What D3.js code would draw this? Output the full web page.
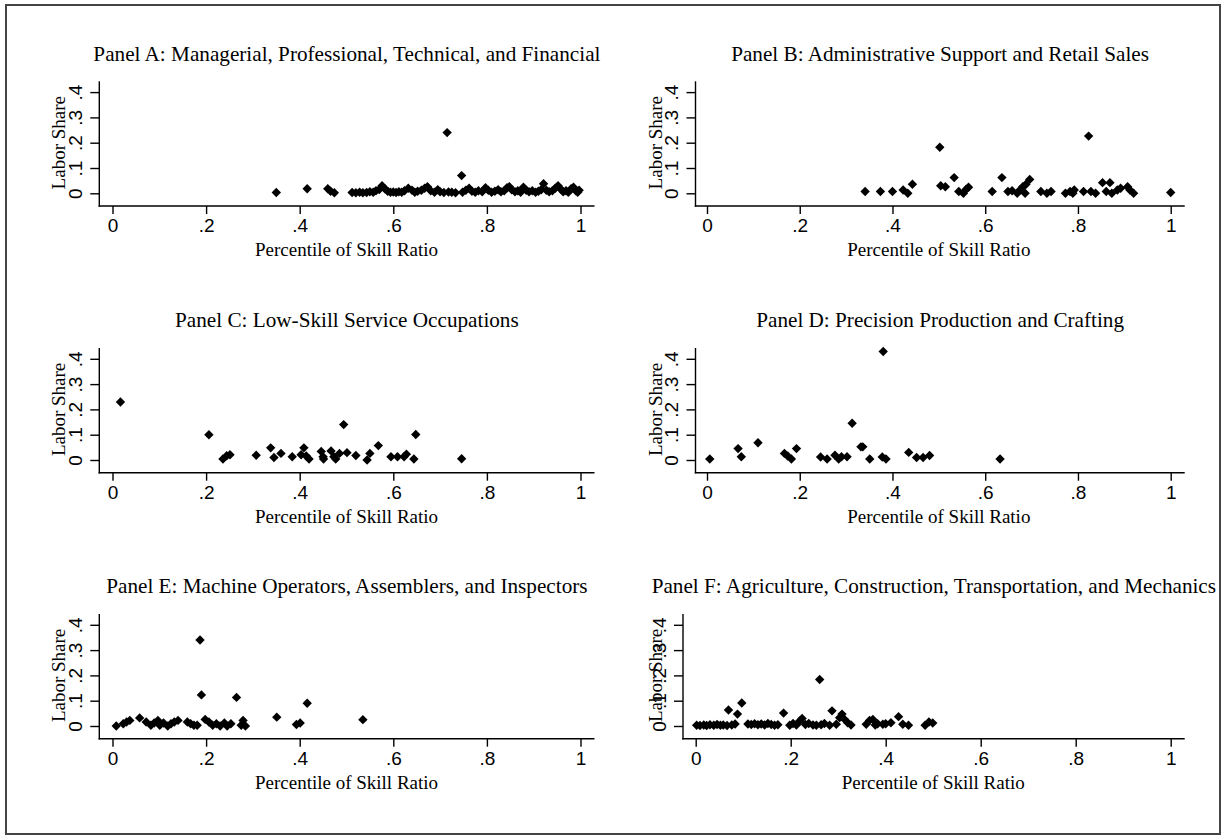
<!DOCTYPE html>
<html>
<head>
<meta charset="utf-8">
<script src="https://cdn.jsdelivr.net/npm/d3@7"></script>
<style>
  html, body { margin: 0; padding: 0; background: #fff; }
  svg { display: block; font-family: "Liberation Serif", "Times New Roman", serif; }
</style>
</head>
<body>
<div id="chart"></div>
<script>
// panel titles
const titles = [
  "Panel A: Managerial, Professional, Technical, and Financial",
  "Panel B: Administrative Support and Retail Sales",
  "Panel C: Low-Skill Service Occupations",
  "Panel D: Precision Production and Crafting",
  "Panel E: Machine Operators, Assemblers, and Inspectors",
  "Panel F: Agriculture, Construction, Transportation, and Mechanics"
]
const xTicks = [0, 0.2, 0.4, 0.6, 0.8, 1]
const yTicks = [0, 0.1, 0.2, 0.3, 0.4]
const xTitle = "Percentile of Skill Ratio"
const yTitle = "Labor Share"

// [percentile of skill ratio, labor share]
const panelA = [
  [0.350,0.003],[0.416,0.018],[0.460,0.018],[0.466,0.008],[0.474,0.002],
  [0.512,0.003],[0.520,0.002],[0.528,0.004],[0.535,0.002],[0.543,0.003],[0.550,0.006],[0.557,0.004],
  [0.563,0.010],[0.570,0.015],[0.576,0.030],[0.582,0.018],[0.588,0.008],[0.594,0.004],[0.600,0.005],
  [0.606,0.003],[0.612,0.006],[0.618,0.004],[0.624,0.010],[0.632,0.020],[0.640,0.012],[0.646,0.004],
  [0.652,0.008],[0.660,0.012],[0.667,0.020],[0.673,0.026],[0.680,0.010],[0.688,0.004],[0.695,0.014],
  [0.700,0.006],[0.708,0.003],[0.715,0.240],[0.718,0.005],[0.725,0.004],[0.733,0.002],[0.746,0.070],
  [0.748,0.004],[0.755,0.012],[0.762,0.020],[0.768,0.008],[0.775,0.004],[0.782,0.010],[0.790,0.006],
  [0.797,0.022],[0.803,0.012],[0.810,0.004],[0.817,0.008],[0.824,0.014],[0.830,0.006],[0.837,0.010],
  [0.843,0.022],[0.848,0.026],[0.853,0.014],[0.860,0.006],[0.866,0.010],[0.872,0.004],[0.878,0.024],
  [0.884,0.012],[0.890,0.006],[0.897,0.010],[0.904,0.004],[0.910,0.008],[0.916,0.014],[0.921,0.038],
  [0.927,0.012],[0.933,0.006],[0.940,0.010],[0.946,0.020],[0.952,0.030],[0.958,0.016],[0.963,0.006],
  [0.969,0.010],[0.974,0.004],[0.980,0.018],[0.985,0.024],[0.990,0.010],[0.994,0.004],[0.997,0.012]
]
const panelB = [
  [0.341,0.007],[0.374,0.007],[0.400,0.007],[0.423,0.013],[0.433,0.000],[0.443,0.036],
  [0.502,0.182],[0.504,0.030],[0.514,0.026],[0.533,0.062],[0.543,0.007],[0.553,0.000],[0.559,0.016],
  [0.564,0.024],[0.615,0.007],[0.636,0.062],[0.649,0.007],[0.658,0.010],[0.669,0.000],[0.675,0.013],
  [0.681,0.026],[0.686,0.000],[0.688,0.036],[0.696,0.055],[0.720,0.007],[0.733,0.000],[0.742,0.007],
  [0.773,0.000],[0.783,0.007],[0.789,0.000],[0.792,0.013],[0.812,0.007],[0.823,0.226],[0.828,0.007],
  [0.838,0.000],[0.853,0.042],[0.861,0.007],[0.869,0.042],[0.873,0.000],[0.885,0.013],[0.892,0.020],
  [0.907,0.026],[0.912,0.013],[0.920,0.000],[1.000,0.003]
]
const panelC = [
  [0.017,0.229],[0.206,0.100],[0.236,0.004],[0.244,0.017],[0.251,0.021],[0.307,0.019],[0.338,0.048],
  [0.345,0.010],[0.360,0.026],[0.384,0.013],[0.403,0.021],[0.409,0.048],[0.414,0.016],[0.420,0.004],
  [0.446,0.034],[0.450,0.013],[0.451,0.004],[0.467,0.036],[0.473,0.013],[0.477,0.004],[0.485,0.026],
  [0.494,0.140],[0.501,0.029],[0.520,0.018],[0.544,0.000],[0.550,0.026],[0.568,0.057],[0.595,0.013],
  [0.609,0.013],[0.623,0.013],[0.628,0.023],[0.644,0.004],[0.648,0.101],[0.746,0.005]
]
const panelD = [
  [0.006,0.004],[0.067,0.045],[0.074,0.013],[0.110,0.068],[0.167,0.026],[0.174,0.016],[0.182,0.004],
  [0.193,0.045],[0.245,0.012],[0.259,0.004],[0.276,0.019],[0.284,0.004],[0.290,0.013],[0.302,0.013],
  [0.313,0.145],[0.332,0.052],[0.336,0.052],[0.351,0.004],[0.380,0.429],[0.378,0.012],[0.386,0.004],
  [0.435,0.030],[0.452,0.010],[0.466,0.010],[0.480,0.018],[0.632,0.004]
]
const panelE = [
  [0.008,0.000],[0.023,0.009],[0.030,0.016],[0.037,0.022],[0.058,0.032],[0.072,0.016],[0.082,0.003],
  [0.089,0.012],[0.097,0.022],[0.101,0.003],[0.109,0.012],[0.118,0.000],[0.125,0.009],[0.132,0.016],
  [0.140,0.022],[0.160,0.016],[0.167,0.009],[0.174,0.003],[0.181,0.003],[0.187,0.340],[0.190,0.123],
  [0.198,0.026],[0.206,0.016],[0.214,0.003],[0.222,0.009],[0.230,0.000],[0.239,0.012],[0.245,0.000],
  [0.253,0.009],[0.265,0.113],[0.275,0.003],[0.279,0.022],[0.284,0.000],[0.351,0.035],[0.393,0.006],
  [0.401,0.012],[0.416,0.090],[0.535,0.025]
]
const panelF = [
  [0.002,0.003],[0.009,0.002],[0.017,0.004],[0.023,0.002],[0.030,0.005],[0.038,0.003],[0.045,0.006],
  [0.052,0.003],[0.058,0.004],[0.066,0.002],[0.069,0.063],[0.076,0.004],[0.083,0.008],[0.088,0.047],
  [0.097,0.091],[0.110,0.008],[0.117,0.006],[0.124,0.009],[0.131,0.005],[0.138,0.008],[0.145,0.004],
  [0.152,0.010],[0.159,0.006],[0.166,0.003],[0.173,0.005],[0.185,0.051],[0.198,0.003],[0.205,0.010],
  [0.212,0.004],[0.219,0.020],[0.224,0.030],[0.231,0.006],[0.238,0.010],[0.247,0.004],[0.254,0.003],
  [0.261,0.184],[0.264,0.005],[0.271,0.010],[0.282,0.003],[0.287,0.060],[0.296,0.007],[0.303,0.033],
  [0.308,0.047],[0.313,0.027],[0.320,0.013],[0.327,0.004],[0.359,0.007],[0.366,0.022],[0.373,0.026],
  [0.378,0.004],[0.383,0.009],[0.394,0.007],[0.400,0.009],[0.411,0.013],[0.427,0.037],[0.436,0.007],
  [0.448,0.003],[0.483,0.003],[0.491,0.016],[0.499,0.012]
]
const panelData = [panelA, panelB, panelC, panelD, panelE, panelF]

// layout of each panel: y-axis line x, x-range, zero line y
const cols = [
  { axisX: 99.3, x0: 112.5, x1: 580.5, labelX: 34 },
  { axisX: 695.5, x0: 707, x1: 1170.7, labelX: 34 },
]
const rowZero = [193.3, 460, 726]

const W = 1222, H = 836
const svg = d3.select("#chart").append("svg").attr("width", W).attr("height", H)
svg.append("rect").attr("width", W).attr("height", H).attr("fill", "#fff")
svg.append("rect").attr("x", 6).attr("y", 5).attr("width", 1214).attr("height", 829)
  .attr("fill", "none").attr("stroke", "#444").attr("stroke-width", 2)

const fmt = v => v === 0 ? "0" : v === 1 ? "1" : d3.format(".1f")(v).replace(/^0/, "")
const marker = d3.symbol().type(d3.symbolSquare).size(44)

panelData.forEach((data, i) => {
  let c = cols[i % 2]
  if (i === 5) c = { axisX: 683, x0: 695.7, x1: 1170.7, labelX: 21 }
  const zeroY = rowZero[Math.floor(i / 2)]
  const x = d3.scaleLinear().domain([0, 1]).range([c.x0, c.x1])
  const y = d3.scaleLinear().domain([0, 0.4]).range([zeroY, zeroY - 101.2])
  const axisY = zeroY + 12.7, topY = zeroY - 112, rightX = c.x1 + 14
  const g = svg.append("g").attr("class", "panel")

  // title
  g.append("text").attr("x", (c.axisX + rightX) / 2).attr("y", zeroY - 132.6)
    .attr("text-anchor", "middle").attr("font-size", 21.2).text(titles[i])

  // axes lines
  g.append("line").attr("x1", c.axisX).attr("x2", c.axisX).attr("y1", topY).attr("y2", axisY + 0.7)
    .attr("stroke", "#000").attr("stroke-width", 1.4)
  g.append("line").attr("x1", c.axisX - 0.7).attr("x2", rightX).attr("y1", axisY).attr("y2", axisY)
    .attr("stroke", "#000").attr("stroke-width", 1.4)

  const xa = g.append("g").attr("transform", `translate(0,${axisY})`)
    .call(d3.axisBottom(x).tickValues(xTicks).tickFormat(fmt).tickSize(8).tickSizeOuter(0).tickPadding(5))
  xa.select(".domain").remove()
  xa.selectAll("line").attr("stroke", "#000").attr("stroke-width", 1.4)
  xa.selectAll("text").attr("font-size", 19).attr("fill", "#000").attr("font-family", null)

  const ya = g.append("g").attr("transform", `translate(${c.axisX},0)`)
    .call(d3.axisLeft(y).tickValues(yTicks).tickFormat(fmt).tickSize(9).tickSizeOuter(0))
  ya.select(".domain").remove()
  ya.selectAll("line").attr("stroke", "#000").attr("stroke-width", 1.4)
  ya.selectAll("text").attr("font-size", 19).attr("fill", "#000").attr("font-family", null)
    .attr("x", null).attr("dy", null).attr("text-anchor", "middle")
    .attr("transform", "translate(-17.3,0) rotate(-90)")

  // axis titles
  g.append("text").attr("x", (c.x0 + c.x1) / 2).attr("y", axisY + 50)
    .attr("text-anchor", "middle").attr("font-size", 19).text(xTitle)
  g.append("text").attr("transform", `translate(${c.axisX - c.labelX},${(y(0) + y(0.4)) / 2}) rotate(-90)`)
    .attr("text-anchor", "middle").attr("font-size", 19).text(yTitle)

  // points
  g.append("g").selectAll("path").data(data).join("path")
    .attr("d", marker)
    .attr("transform", d => `translate(${x(d[0])},${y(d[1])}) rotate(45)`)
    .attr("fill", "#000")
})
</script>
</body>
</html>
